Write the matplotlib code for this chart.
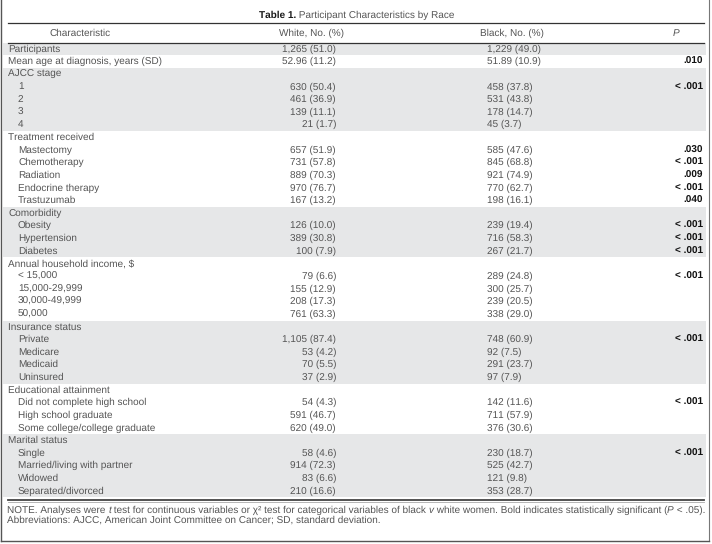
import matplotlib
matplotlib.use("Agg")
import matplotlib.pyplot as plt
from matplotlib.patches import Rectangle

plt.rcParams['font.family'] = ['Liberation Sans', 'DejaVu Sans']
plt.rcParams['text.hinting'] = 'none'
plt.rcParams['text.hinting_factor'] = 1

title_bold = "Table 1."
title_rest = " Participant Characteristics by Race"
headers = ["Characteristic", "White, No. (%)", "Black, No. (%)", "P"]

characteristics = [
    "Participants", "Mean age at diagnosis, years (SD)",
    "AJCC stage", "1", "2", "3", "4",
    "Treatment received", "Mastectomy", "Chemotherapy", "Radiation", "Endocrine therapy", "Trastuzumab",
    "Comorbidity", "Obesity", "Hypertension", "Diabetes",
    "Annual household income, $", "< 15,000", "15,000-29,999", "30,000-49,999", "50,000",
    "Insurance status", "Private", "Medicare", "Medicaid", "Uninsured",
    "Educational attainment", "Did not complete high school", "High school graduate", "Some college/college graduate",
    "Marital status", "Single", "Married/living with partner", "Widowed", "Separated/divorced",
]
indented = [
    0, 0,
    0, 1, 1, 1, 1,
    0, 1, 1, 1, 1, 1,
    0, 1, 1, 1,
    0, 1, 1, 1, 1,
    0, 1, 1, 1, 1,
    0, 1, 1, 1,
    0, 1, 1, 1, 1,
]
white = [
    "1,265 (51.0)", "52.96 (11.2)",
    "", "630 (50.4)", "461 (36.9)", "139 (11.1)", "21 (1.7)",
    "", "657 (51.9)", "731 (57.8)", "889 (70.3)", "970 (76.7)", "167 (13.2)",
    "", "126 (10.0)", "389 (30.8)", "100 (7.9)",
    "", "79 (6.6)", "155 (12.9)", "208 (17.3)", "761 (63.3)",
    "", "1,105 (87.4)", "53 (4.2)", "70 (5.5)", "37 (2.9)",
    "", "54 (4.3)", "591 (46.7)", "620 (49.0)",
    "", "58 (4.6)", "914 (72.3)", "83 (6.6)", "210 (16.6)",
]
black = [
    "1,229 (49.0)", "51.89 (10.9)",
    "", "458 (37.8)", "531 (43.8)", "178 (14.7)", "45 (3.7)",
    "", "585 (47.6)", "845 (68.8)", "921 (74.9)", "770 (62.7)", "198 (16.1)",
    "", "239 (19.4)", "716 (58.3)", "267 (21.7)",
    "", "289 (24.8)", "300 (25.7)", "239 (20.5)", "338 (29.0)",
    "", "748 (60.9)", "92 (7.5)", "291 (23.7)", "97 (7.9)",
    "", "142 (11.6)", "711 (57.9)", "376 (30.6)",
    "", "230 (18.7)", "525 (42.7)", "121 (9.8)", "353 (28.7)",
]
pvals = [
    "", ".010",
    "", "< .001", "", "", "",
    "", ".030", "< .001", ".009", "< .001", ".040",
    "", "< .001", "< .001", "< .001",
    "", "< .001", "", "", "",
    "", "< .001", "", "", "",
    "", "< .001", "", "",
    "", "< .001", "", "", "",
]
shaded = [
    1, 0,
    1, 1, 1, 1, 1,
    0, 0, 0, 0, 0, 0,
    1, 1, 1, 1,
    0, 0, 0, 0, 0,
    1, 1, 1, 1, 1,
    0, 0, 0, 0,
    1, 1, 1, 1, 1,
]
# (text, italic?) pieces of the note
note_pieces = [
    ("NOTE. Analyses were ", False), ("t", True),
    (" test for continuous variables or \u03c7\u00b2 test for categorical variables of black ", False),
    ("v", True), (" white women. Bold indicates statistically significant (", False),
    ("P", True), (" < .05).", False),
]
note_line2 = "Abbreviations: AJCC, American Joint Committee on Cancer; SD, standard deviation."

W, H = 712, 544
fig = plt.figure(figsize=(W / 100, H / 100), dpi=100)
ax = fig.add_axes([0, 0, 1, 1])
ax.set_xlim(0, W)
ax.set_ylim(H, 0)
ax.axis('off')

txt = '#555555'
fs = 7.0
row0 = 49.0
step = 12.63
shade_col = '#e6e7e8'
xl, xr = 8, 704

# shading
for i, s in enumerate(shaded):
    y = row0 + i * step
    if s:
        ax.add_patch(Rectangle((3, y - step / 2), 703, step, facecolor=shade_col, edgecolor='none', zorder=0))


def draw_pieces(x, y_disp, pieces, size, **kw):
    """Draw styled pieces one after another (display coords)."""
    for s, style in pieces:
        t = ax.text(x, y_disp, s, ha='left', va='center', fontsize=size, transform=None, **style, **kw)
        fig.canvas.draw()
        x = t.get_window_extent().x1
    return x


# title: bold "Table 1." followed by regular text, centered as a whole
ty = 15.5
t1 = ax.text(356, ty, title_bold + title_rest, ha='center', va='center', fontsize=fs, alpha=0)
fig.canvas.draw()
bb = t1.get_window_extent()
t1.remove()
tb = ax.text(bb.x0, H - ty, title_bold, ha='left', va='center', fontsize=fs, color='#1a1a1a',
             fontweight='bold', transform=None)
fig.canvas.draw()
bb2 = tb.get_window_extent()
ax.text(bb2.x1, H - ty, title_rest, ha='left', va='center', fontsize=fs, color=txt, transform=None)

# rules
ax.plot([xl, xr], [23, 23], color='#333333', lw=0.9)
ax.plot([xl, xr], [43, 43], color='#333333', lw=0.9)
ax.plot([xl, xr], [500, 500], color='#444444', lw=1.3)
ax.plot([xl, xr], [501.5, 501.5], color='#aaaaaa', lw=0.6)

# frame
ax.plot([1, 1], [0, 541], color='#555555', lw=1.0)
ax.plot([709, 709], [0, 541], color='#777777', lw=0.8)
ax.plot([1, 709], [541, 541], color='#555555', lw=1.0)

# headers
hy = 33.5
ax.text(80, hy, headers[0], ha='center', va='center', fontsize=fs, color=txt)
ax.text(312, hy, headers[1], ha='center', va='center', fontsize=fs, color=txt)
ax.text(512, hy, headers[2], ha='center', va='center', fontsize=fs, color=txt)
ax.text(676, hy, headers[3], ha='center', va='center', fontsize=fs, color=txt, style='italic')

# rows
for i, lab in enumerate(characteristics):
    y = row0 + i * step
    ax.text(xl + (10 if indented[i] else 0), y, lab, ha='left', va='center', fontsize=fs, color=txt)
    if white[i]:
        ax.text(336, y, white[i], ha='right', va='center', fontsize=fs, color=txt)
    if black[i]:
        ax.text(487, y, black[i], ha='left', va='center', fontsize=fs, color=txt)
    if pvals[i]:
        ax.text(703, y, pvals[i], ha='right', va='center', fontsize=fs, color='#111111', fontweight='bold')

# note
nfs = 6.9
styled = [(s, {'style': 'italic'} if it else {}) for s, it in note_pieces]
draw_pieces(xl - 1, H - 510, styled, nfs, color=txt)
ax.text(xl - 1, 520, note_line2, ha='left', va='center', fontsize=nfs, color=txt)

fig.savefig('out.png', dpi=100)
